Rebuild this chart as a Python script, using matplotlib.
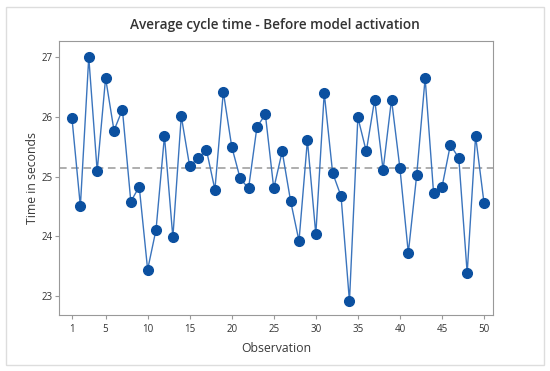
import matplotlib
matplotlib.use("Agg")
import matplotlib.pyplot as plt
from matplotlib.patches import Rectangle
import numpy as np

observations = list(range(1, 51))
times = [25.98, 24.50, 27.00, 25.09, 26.65, 25.77, 26.12, 24.58, 24.83, 23.44,
         24.11, 25.68, 23.98, 26.01, 25.17, 25.31, 25.44, 24.78, 26.42, 25.50,
         24.97, 24.80, 25.83, 26.04, 24.80, 25.42, 24.59, 23.92, 25.61, 24.03,
         26.40, 25.06, 24.67, 22.91, 25.99, 25.42, 26.29, 25.11, 26.29, 25.14,
         23.72, 25.03, 26.65, 24.73, 24.82, 25.53, 25.31, 23.38, 25.68, 24.56]
mean_line = 25.15
xticks = [1, 5, 10, 15, 20, 25, 30, 35, 40, 45, 50]
yticks = [23, 24, 25, 26, 27]

plt.rcParams['font.family'] = ['Open Sans', 'DejaVu Sans']
fig = plt.figure(figsize=(5.5, 3.71), dpi=100)
fig.patches.append(Rectangle((6/550, 1-365/371), 538/550, 358/371, transform=fig.transFigure,
                             fill=False, edgecolor='#dddddd', linewidth=1))
ax = fig.add_axes([59/550, 1-315/371, 434/550, 274/371])
ax.plot(observations, times, color='#3a74bd', linewidth=1.0, marker='o',
        markersize=7, markerfacecolor='#0b50a0', markeredgecolor='#0b50a0', zorder=3)
ax.axhline(mean_line, color='#999999', linestyle=(0, (5, 3)), linewidth=1.1, zorder=2)
ax.set_xlim(-0.54, 51.07)
ax.set_ylim(22.68, 27.27)
ax.set_xticks(xticks)
ax.set_yticks(yticks)
for s in ax.spines.values():
    s.set_color('#999999')
ax.tick_params(axis='both', colors='#999999', labelcolor='#333333', labelsize=7, length=3, width=0.8)
ax.tick_params(axis='y', pad=1.5)
ax.set_xlabel('Observation', fontsize=8.8, fontweight='medium', color='#3a3a3a', labelpad=5)
ax.set_ylabel('Time in seconds', fontsize=8.8, fontweight='medium', color='#3a3a3a', labelpad=2)
fig.text(0.5, 1-25/371, 'Average cycle time - Before model activation', ha='center', va='center',
         fontsize=9.8, fontweight='semibold', color='#333333')
fig.savefig('out.png', dpi=100)
